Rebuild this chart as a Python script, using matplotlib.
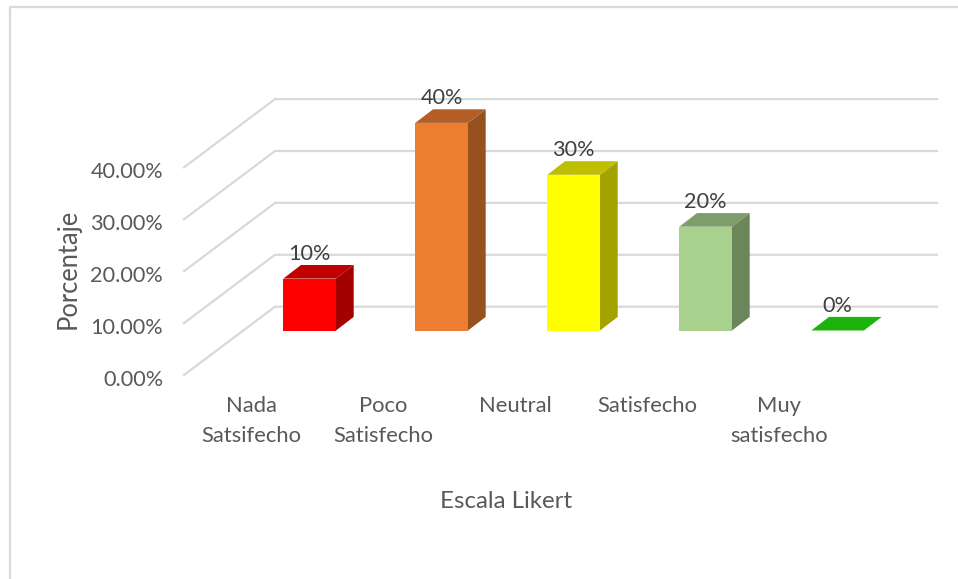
import matplotlib
matplotlib.use("Agg")
from matplotlib import pyplot as plt
from matplotlib.patches import Polygon

categories = ["Nada\nSatsifecho", "Poco\nSatisfecho", "Neutral", "Satisfecho", "Muy\nsatisfecho"]
values = [10, 40, 30, 20, 0]
value_labels = ["10%", "40%", "30%", "20%", "0%"]
y_ticks = [0, 10, 20, 30, 40]
y_tick_labels = ["0.00%", "10.00%", "20.00%", "30.00%", "40.00%"]
front_colors = ["#FF0000", "#ED7D31", "#FFFF00", "#A9D18E", "#1DB30D"]
top_colors = ["#BF0000", "#B25E25", "#BFBF00", "#7F9D6A", "#1DB30D"]
side_colors = ["#A30000", "#97511F", "#A3A300", "#6C865B", "#1DB30D"]

W, H = 958, 579
PX_X = 132.0   # pixels per category
PX_Y = 5.19    # pixels per percent
X0 = 309.65    # pixel of first bar centre
Y0 = 330.5     # pixel of the bars' base

plt.rcParams["font.family"] = ["Lato", "DejaVu Sans"]
fig = plt.figure(figsize=(W / 100, H / 100), dpi=100)
ax = fig.add_axes([0, 0, 1, 1])
ax.set_xlim(-X0 / PX_X, (W - X0) / PX_X)
ax.set_ylim((Y0 - H) / PX_Y, Y0 / PX_Y)
ax.axis("off")

grid = "#D9D9D9"
w = 52.7 / PX_X
dx = 17.7 / PX_X
dy = 13.6 / PX_Y
back_y = 23.8 / PX_Y     # back wall, above bar base
front_y = -44.5 / PX_Y   # front edge of side wall
wall_l = (184 - X0) / PX_X
wall_m = (275 - X0) / PX_X
wall_r = (937 - X0) / PX_X

# picture frame
ax.plot([(9.5 - X0) / PX_X, (9.5 - X0) / PX_X, (W - X0) / PX_X],
        [(Y0 - H) / PX_Y, (Y0 - 6.5) / PX_Y, (Y0 - 6.5) / PX_Y], color=grid, lw=1.6)

for t in y_ticks:
    ax.plot([wall_l, wall_m, wall_r], [t + front_y, t + back_y, t + back_y], color=grid, lw=1.6, zorder=1)
    ax.text((163 - X0) / PX_X, t + front_y - 4.5 / PX_Y, y_tick_labels[y_ticks.index(t)], ha="right", va="center",
            fontsize=15.6, color="#595959")

for i, v in enumerate(values):
    l, r = i - w / 2, i + w / 2
    if v > 0:
        ax.add_patch(Polygon([(r, 0), (r + dx, dy), (r + dx, v + dy), (r, v)], fc=side_colors[i], ec="none", zorder=2))
    ax.add_patch(Polygon([(l, v), (r, v), (r + dx, v + dy), (l + dx, v + dy)], fc=top_colors[i], ec="none", zorder=2))
    ax.bar(i, v, width=w, color=front_colors[i], zorder=3)
    ax.text(i, v + 24.5 / PX_Y, value_labels[i], ha="center", va="center", fontsize=15.6, color="#404040", zorder=4)
    ax.text(i - 58.6 / PX_X, -65 / PX_Y, categories[i], ha="center", va="top", fontsize=15.8,
            color="#595959", linespacing=1.65)

ax.text((68 - X0) / PX_X, (Y0 - 269) / PX_Y, "Porcentaje", rotation=90, ha="center", va="center",
        fontsize=18.4, color="#595959")
ax.text((506 - X0) / PX_X, (Y0 - 501) / PX_Y, "Escala Likert", ha="center", va="center",
        fontsize=17.3, color="#595959")

fig.savefig("out.png", dpi=100)
